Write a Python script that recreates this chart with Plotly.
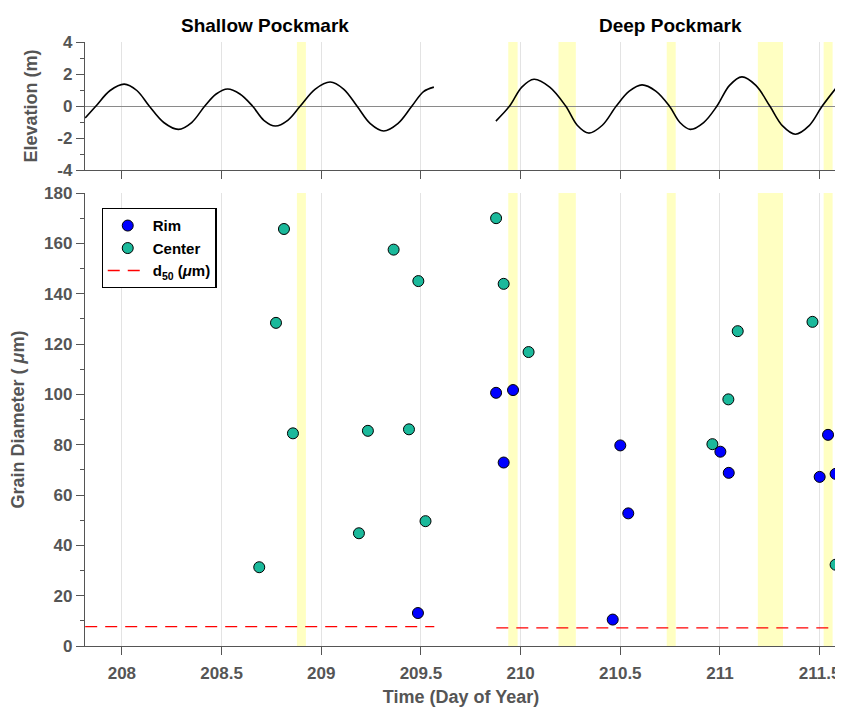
import plotly.graph_objects as go

# ---------------- data ----------------
# Tide elevation (m) (extrema, zero crossings and mid-slopes)
tide_shallow_t = [207.816, 207.870, 207.941, 208.012, 208.075, 208.137, 208.210, 208.284,
                  208.350, 208.416, 208.473, 208.530, 208.592, 208.655, 208.712, 208.770,
                  208.832, 208.895, 208.970, 209.045, 209.112, 209.179, 209.246, 209.313,
                  209.384, 209.455, 209.513, 209.565]
tide_shallow_e = [-0.75, 0.0, 0.97, 1.37, 0.97, 0.0, -1.03, -1.46,
                  -1.03, 0.0, 0.75, 1.06, 0.75, 0.0, -0.89, -1.25,
                  -0.89, 0.0, 1.06, 1.50, 1.06, 0.0, -1.10, -1.56,
                  -1.10, 0.0, 0.90, 1.18]
tide_deep_t = [209.876, 209.945, 210.006, 210.067, 210.146, 210.226, 210.284, 210.341,
               210.410, 210.480, 210.545, 210.609, 210.678, 210.746, 210.799, 210.851,
               210.918, 210.985, 211.048, 211.110, 211.180, 211.250, 211.314, 211.378,
               211.446, 211.513, 211.587]
tide_deep_e = [-0.94, 0.0, 1.18, 1.67, 1.18, 0.0, -1.20, -1.69,
               -1.20, 0.0, 0.93, 1.32, 0.93, 0.0, -1.03, -1.46,
               -1.03, 0.0, 1.29, 1.82, 1.29, 0.0, -1.24, -1.76,
               -1.24, 0.0, 1.20]

# Grain diameter samples (um)
rim_t = [209.485, 209.877, 209.915, 209.962, 210.462, 210.500, 210.540,
         211.002, 211.044, 211.500, 211.542, 211.580]
rim_d = [13.1, 100.6, 72.9, 101.7, 10.5, 79.7, 52.7,
         77.2, 68.8, 67.2, 83.9, 68.4]
center_t = [208.689, 208.773, 208.813, 208.858, 209.189, 209.234, 209.363, 209.440,
            209.487, 209.523, 209.877, 209.915, 210.040, 210.962, 211.042, 211.089,
            211.464, 211.580]
center_d = [31.3, 128.4, 165.7, 84.5, 44.8, 85.5, 157.5, 86.1,
            145.0, 49.6, 170.0, 143.9, 116.8, 80.2, 98.0, 125.1,
            128.8, 32.3]

# d50 reference levels (um) and their time spans
d50_shallow_t = [207.816, 209.567]
d50_shallow = [7.7, 7.7]
d50_deep_t = [209.878, 211.587]
d50_deep = [7.2, 7.2]

# shaded periods (day of year)
band_start = [208.878, 209.938, 210.190, 210.733, 211.190, 211.520]
band_end = [208.923, 209.985, 210.277, 210.778, 211.316, 211.565]

x_tickvals = [208, 208.5, 209, 209.5, 210, 210.5, 211, 211.5]
x_ticktext = ["208", "208.5", "209", "209.5", "210", "210.5", "211", "211.5"]
elev_tickvals = [-4, -2, 0, 2, 4]
elev_ticktext = ["-4", "-2", "0", "2", "4"]
diam_tickvals = [0, 20, 40, 60, 80, 100, 120, 140, 160, 180]
panel_titles = ["Shallow Pockmark", "Deep Pockmark"]

# ---------------- styling ----------------
FONT = "Liberation Sans, Arial, Helvetica, sans-serif"
AX = "#555555"
GRID = "#e3e3e3"
RIM_C = "#0000FF"
CEN_C = "#1BB99B"
BAND_C = "#FFFFC2"
XR = [207.815, 211.587]

fig = go.Figure()

# tide curves (top panel)
for t, e in [(tide_shallow_t, tide_shallow_e), (tide_deep_t, tide_deep_e)]:
    fig.add_trace(go.Scatter(x=t, y=e, mode="lines", line=dict(color="black", width=1.6, shape="spline", smoothing=1.0),
                             xaxis="x2", yaxis="y2", showlegend=False, hoverinfo="skip"))

# d50 lines
fig.add_trace(go.Scatter(x=d50_shallow_t, y=d50_shallow, mode="lines",
                         line=dict(color="#FF0000", width=1.4, dash="12px,8px"),
                         name="d<sub>50</sub> (<i>μ</i>m)", legendrank=3, showlegend=True))
fig.add_trace(go.Scatter(x=d50_deep_t, y=d50_deep, mode="lines",
                         line=dict(color="#FF0000", width=1.4, dash="12px,8px"),
                         showlegend=False))

# scatter points
fig.add_trace(go.Scatter(x=rim_t, y=rim_d, mode="markers", name="Rim", legendrank=1, cliponaxis=False,
                         marker=dict(color=RIM_C, size=11, line=dict(color="black", width=1))))
fig.add_trace(go.Scatter(x=center_t, y=center_d, mode="markers", name="Center", legendrank=2, cliponaxis=False,
                         marker=dict(color=CEN_C, size=11, line=dict(color="black", width=1))))

# shaded bands in both panels
shapes = []
for s, e in zip(band_start, band_end):
    for yr in ["y domain", "y2 domain"]:
        shapes.append(dict(type="rect", xref="x", yref=yr, x0=s, x1=e, y0=0, y1=1,
                           fillcolor=BAND_C, line=dict(width=0), layer="below"))

tickfont = dict(family=FONT, size=17, color=AX, weight="bold")
titlefont = dict(family=FONT, size=18, color=AX, weight="bold")

xcommon = dict(range=XR, tickvals=x_tickvals, showgrid=True, gridcolor=GRID, gridwidth=1,
               showline=True, linecolor=AX, linewidth=1.3, ticks="outside", ticklen=8,
               tickwidth=1.3, tickcolor=AX, zeroline=False, automargin=False)

# the page body adds an 8px offset; size the figure to fill the 843x707 window
fig.update_layout(
    width=835, height=699,
    margin=dict(l=77, r=6, t=34, b=61),
    paper_bgcolor="white", plot_bgcolor="white",
    font=dict(family=FONT),
    shapes=shapes,
    xaxis=dict(**xcommon, ticktext=x_ticktext, tickfont=tickfont, anchor="y", ticklabelstandoff=3,
               title=dict(text="Time (Day of Year)", font=titlefont, standoff=10)),
    xaxis2=dict(**xcommon, showticklabels=False, anchor="y2", matches="x"),
    yaxis=dict(domain=[0, 0.75], range=[0, 180], tickvals=diam_tickvals,
               showgrid=False, zeroline=False, showline=True, linecolor=AX, linewidth=1.3,
               ticks="outside", ticklen=8, tickwidth=1.3, tickcolor=AX, tickfont=tickfont,
               minor=dict(ticks="outside", dtick=10, ticklen=4, tickcolor=AX, tickwidth=1.3, showgrid=False),
               title=dict(text="Grain Diameter ( <i>μ</i>m)", font=titlefont), automargin=False),
    yaxis2=dict(domain=[0.788, 1], range=[-4, 4], tickvals=elev_tickvals, ticktext=elev_ticktext,
                showgrid=False, zeroline=True, zerolinecolor="#8a8a8a", zerolinewidth=1.4,
                showline=True, linecolor=AX, linewidth=1.3,
                ticks="outside", ticklen=8, tickwidth=1.3, tickcolor=AX, tickfont=tickfont,
                minor=dict(ticks="outside", dtick=1, ticklen=4, tickcolor=AX, tickwidth=1.3, showgrid=False),
                title=dict(text="Elevation (m)", font=titlefont), anchor="x2", automargin=False),
    legend=dict(x=0.022, y=0.725, xanchor="left", yanchor="top", bgcolor="white",
                bordercolor="black", borderwidth=1.2,
                font=dict(family=FONT, size=15, color="black", weight="bold"),
                traceorder="normal", itemwidth=40),
    annotations=[
        dict(text=panel_titles[0], xref="paper", yref="paper", x=0.239, y=1.028,
             xanchor="center", yanchor="middle", showarrow=False,
             font=dict(family=FONT, size=19, color="black", weight="bold")),
        dict(text=panel_titles[1], xref="paper", yref="paper", x=0.778, y=1.028,
             xanchor="center", yanchor="middle", showarrow=False,
             font=dict(family=FONT, size=19, color="black", weight="bold")),
    ],
)

fig.write_html("out.html")
